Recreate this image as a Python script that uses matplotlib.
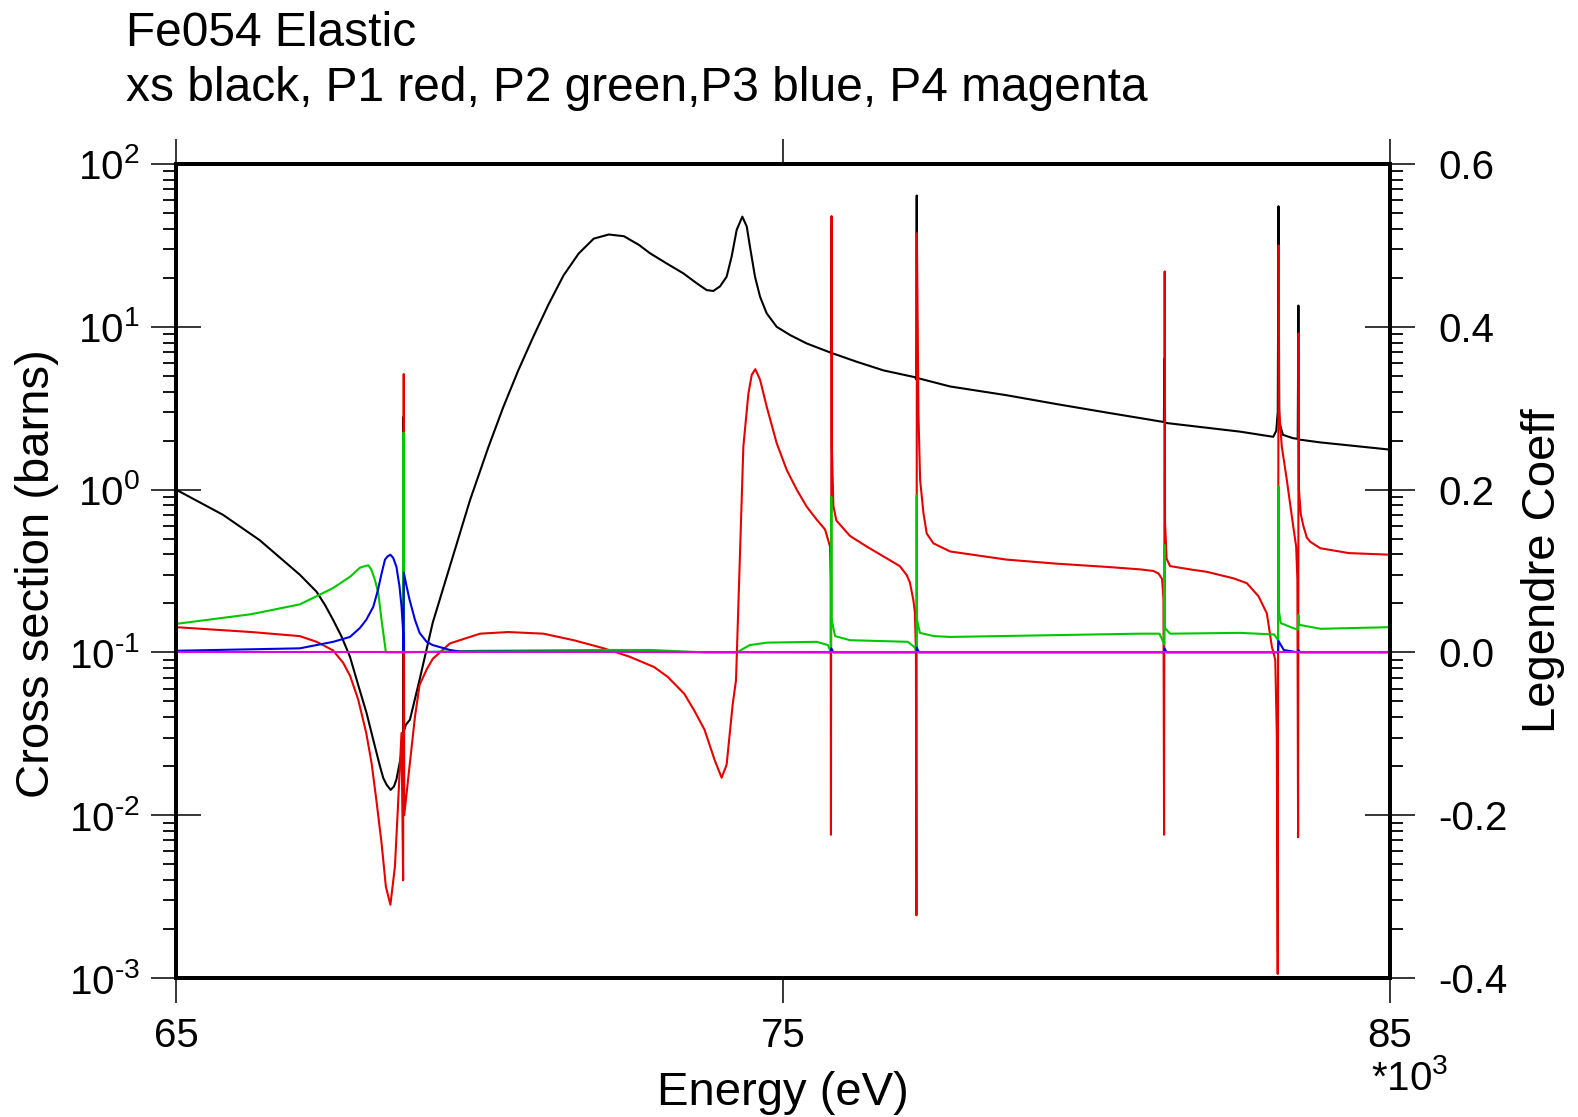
import numpy as np
import matplotlib
matplotlib.use("Agg")
import matplotlib.pyplot as plt
from matplotlib.ticker import LogLocator, NullFormatter, FuncFormatter, MultipleLocator, FormatStrFormatter

plt.rcParams['font.family'] = ['Liberation Sans', 'DejaVu Sans']
plt.rcParams['mathtext.fontset'] = 'custom'
plt.rcParams['mathtext.rm'] = 'Liberation Sans'
plt.rcParams['mathtext.default'] = 'regular'
plt.rcParams['axes.unicode_minus'] = False

#cross section (barns), left log axis
xs_e = [65000, 65774, 66376, 67040, 67315, 67453, 67590, 67728, 67866, 68002, 68139, 68250, 68360,
        68415, 68469, 68536, 68590, 68632, 68715, 68740, 68748, 68756, 68788, 68854, 69013, 69229,
        69511, 69843, 70141, 70390, 70639, 70887, 71136, 71385, 71634, 71882, 72131, 72380, 72629,
        72809, 73083, 73358, 73579, 73743, 73852, 73962, 74071, 74154, 74237, 74330, 74403, 74456,
        74539, 74622, 74731, 74896, 75116, 75391, 75780, 75790, 75796, 75803, 76214, 76653, 77176,
        77196, 77203, 77210, 77753, 78682, 79511, 80340, 80883, 81275, 81285, 81295, 82529, 83077,
        83126, 83151, 83163, 83176, 83236, 83399, 83480, 83491, 83500, 83850, 85000]
xs_v = [1.0, 0.70, 0.49, 0.30, 0.236, 0.196, 0.158, 0.125, 0.094, 0.063, 0.0425, 0.029, 0.020,
        0.0169, 0.0154, 0.0143, 0.015, 0.0166, 0.024, 0.03, 2.8, 0.033, 0.036, 0.0386, 0.068, 0.152,
        0.337, 0.86, 1.8, 3.2, 5.4, 8.7, 13.7, 20.7, 28.2, 34.8, 36.9, 36.0, 31.8,
        28.3, 24.5, 21.3, 18.5, 16.8, 16.6, 17.7, 20.3, 27, 39.4, 47.5, 41.3, 31,
        20.3, 15.3, 12.1, 10.0, 8.9, 7.9, 6.95, 6.9, 40, 6.9, 6.1, 5.4, 4.9,
        4.75, 64, 4.85, 4.3, 3.8, 3.35, 2.97, 2.75, 2.6, 6.4, 2.57, 2.27, 2.11,
        2.3, 3.0, 55, 2.6, 2.17, 2.07, 2.05, 13.5, 2.03, 1.95, 1.76]

#P1 legendre coefficient (red)
p1_e = [65000, 66244, 67040, 67317, 67587, 67756, 67869, 68002, 68134, 68222, 68300, 68386, 68458,
        68532, 68607, 68662, 68715, 68742, 68752, 68760, 68847, 68937, 69013, 69129, 69229, 69512,
        70008, 70473, 71053, 71551, 72048, 72463, 72877, 73100, 73375, 73550, 73707, 73873, 73989,
        74071, 74171, 74226, 74347, 74430, 74485, 74544, 74622, 74731, 74896, 75062, 75226, 75391,
        75556, 75693, 75775, 75785, 75790, 75800, 75806, 75830, 75879, 76105, 76380, 76653, 76924,
        77038, 77090, 77148, 77173, 77190, 77198, 77206, 77231, 77259, 77314, 77368, 77478, 77753,
        78682, 79511, 80340, 80883, 81103, 81186, 81246, 81268, 81278, 81288, 81294, 81320, 81377,
        81705, 81982, 82421, 82642, 82833, 82971, 83054, 83110, 83135, 83150, 83165, 83172, 83217,
        83300, 83383, 83454, 83474, 83486, 83494, 83500, 83530, 83574, 83630, 83685, 83850, 84321,
        85000]
p1_v = [0.031, 0.025, 0.020, 0.013, 0.0025, -0.013, -0.029, -0.058, -0.099, -0.136, -0.181, -0.234, -0.288,
        -0.31, -0.263, -0.181, -0.099, -0.28, 0.342, -0.2, -0.14, -0.079, -0.04, -0.021, -0.008, 0.011,
        0.023, 0.025, 0.023, 0.015, 0.005, -0.005, -0.018, -0.03, -0.051, -0.073, -0.095, -0.132, -0.154,
        -0.138, -0.064, -0.034, 0.253, 0.318, 0.341, 0.348, 0.335, 0.302, 0.257, 0.224, 0.2, 0.179,
        0.163, 0.151, 0.13, 0.09, -0.224, 0.536, 0.25, 0.18, 0.162, 0.143, 0.13, 0.118, 0.106,
        0.095, 0.086, 0.064, 0.049, 0.0, -0.323, 0.515, 0.294, 0.212, 0.171, 0.146, 0.134, 0.124,
        0.114, 0.109, 0.105, 0.102, 0.1, 0.097, 0.09, 0.065, -0.224, 0.468, 0.16, 0.115, 0.106,
        0.102, 0.099, 0.091, 0.085, 0.069, 0.048, 0.007, -0.009, -0.1, -0.395, 0.50, 0.30, 0.253,
        0.212, 0.167, 0.13, 0.09, -0.227, 0.392, 0.2, 0.17, 0.155, 0.141, 0.136, 0.128, 0.122,
        0.12]

#P2 (green)
p2_e = [65000, 66244, 67040, 67315, 67587, 67869, 68030, 68113, 68168, 68217, 68277, 68333, 68386,
        68458, 68740, 68748, 68756, 70000, 72000, 72811, 73707, 74238, 74453, 74735, 75556, 75740,
        75790, 75796, 75802, 75858, 76105, 77056, 77173, 77200, 77203, 77208, 77255, 77488, 77753,
        80883, 81203, 81280, 81285, 81292, 81377, 82529, 83093, 83110, 83155, 83163, 83172, 83200,
        83400, 83485, 83491, 83498, 83858, 85000]
p2_v = [0.035, 0.047, 0.059, 0.069, 0.079, 0.093, 0.104, 0.106, 0.107, 0.102, 0.089, 0.073, 0.04,
        0.0, 0.0, 0.27, 0.0, 0.002, 0.003, 0.003, 0.0, 0.0, 0.009, 0.012, 0.013, 0.009,
        0.0, 0.191, 0.04, 0.02, 0.015, 0.013, 0.006, 0.0, 0.193, 0.04, 0.024, 0.02, 0.019,
        0.023, 0.023, 0.01, 0.132, 0.03, 0.023, 0.024, 0.022, 0.02, 0.015, 0.204, 0.05, 0.036,
        0.03, 0.028, 0.046, 0.034, 0.029, 0.031]

#P3 (blue)
p3_e = [65000, 67040, 67315, 67590, 67866, 68030, 68134, 68250, 68328, 68387, 68443, 68486, 68532,
        68579, 68632, 68682, 68716, 68743, 68748, 68753, 68788, 68847, 68937, 69013, 69129, 69229,
        69512, 69677, 75790, 75796, 75830, 77198, 77203, 77240, 81280, 81285, 81320, 83155, 83163,
        83250, 83486, 83491, 83520, 85000]
p3_v = [0.002, 0.005, 0.009, 0.013, 0.019, 0.03, 0.04, 0.056, 0.077, 0.097, 0.114, 0.118, 0.12,
        0.116, 0.105, 0.081, 0.056, 0.024, 0.0, 0.098, 0.085, 0.065, 0.04, 0.024, 0.013, 0.009,
        0.003, 0.001, 0.0, 0.005, 0.0, 0.0, 0.006, 0.0, 0.0, 0.005, 0.0, 0.0, 0.014,
        0.003, 0.0, 0.003, 0.0, 0.0]

#P4 (magenta)
p4_e = [65000, 85000]
p4_v = [0.0, 0.0]

W, H = 1578, 1117
fig = plt.figure(figsize=(W/100, H/100), dpi=100)
ax = fig.add_axes([176/W, 1-978/H, (1390-176)/W, (978-164)/H])

ax.plot(xs_e, xs_v, color='black', lw=1.5)
ax.set_yscale('log')
ax.set_ylim(1e-3, 1e2)
ax.set_xlim(65000, 85000)

ax2 = ax.twinx()
ax2.plot(p1_e, p1_v, color='#e60000', lw=1.5)
ax2.plot(p2_e, p2_v, color='#00c800', lw=1.5)
ax2.plot(p3_e, p3_v, color='#0000e6', lw=1.5)
ax2.plot(p4_e, p4_v, color='#e000e0', lw=1.5)
ax2.set_ylim(-0.4, 0.6)
ax2.set_xlim(65000, 85000)

def decade(v, p):
    n = int(round(np.log10(v)))
    return r"$\mathregular{10^{%s}}$" % str(n).replace('-', '\u2010')

ax.set_xticks([65000, 75000, 85000])
ax.xaxis.set_major_formatter(FuncFormatter(lambda v, p: "%d" % (v/1000)))
ax.yaxis.set_major_formatter(FuncFormatter(decade))
ax.yaxis.set_minor_locator(LogLocator(base=10, subs=np.arange(2, 10), numticks=20))
ax.yaxis.set_minor_formatter(NullFormatter())
ax2.yaxis.set_major_locator(MultipleLocator(0.2))
ax2.yaxis.set_major_formatter(FormatStrFormatter('%.1f'))

ax.tick_params(axis='x', which='major', direction='out', length=18, width=1.1,
               top=True, bottom=True, labelsize=29, pad=10)
ax.tick_params(axis='x', which='minor', top=False, bottom=False)
ax.tick_params(axis='y', which='major', direction='inout', length=36, width=1.1,
               left=True, right=False, labelsize=29, pad=8)
ax.tick_params(axis='y', which='minor', direction='out', length=9.5, width=1.3,
               left=True, right=True)
ax2.tick_params(axis='y', which='major', direction='inout', length=36, width=1.1,
                right=True, labelsize=29, pad=17)
ax2.tick_params(axis='y', which='minor', right=False)

for a in (ax, ax2):
    for s in a.spines.values():
        s.set_linewidth(2.8)

fig.text(126/W, 1-46/H, "Fe054 Elastic", fontsize=34.5, ha='left', va='baseline')
fig.text(126/W, 1-101/H, "xs black, P1 red, P2 green,P3 blue, P4 magenta", fontsize=34.5,
         ha='left', va='baseline')
fig.text(783/W, 1-1105/H, "Energy (eV)", fontsize=34, ha='center', va='baseline')
fig.text(37/W, 1-574/H, "Cross section (barns)", fontsize=34, rotation=90, ha='center', va='center')
fig.text(1543/W, 1-571/H, "Legendre Coeff", fontsize=34, rotation=90, ha='center', va='center')
fig.text(1371/W, 1-1090/H, r"*$\mathregular{10^{3}}$", fontsize=29, ha='left', va='baseline')

fig.savefig("out.png", dpi=100)
